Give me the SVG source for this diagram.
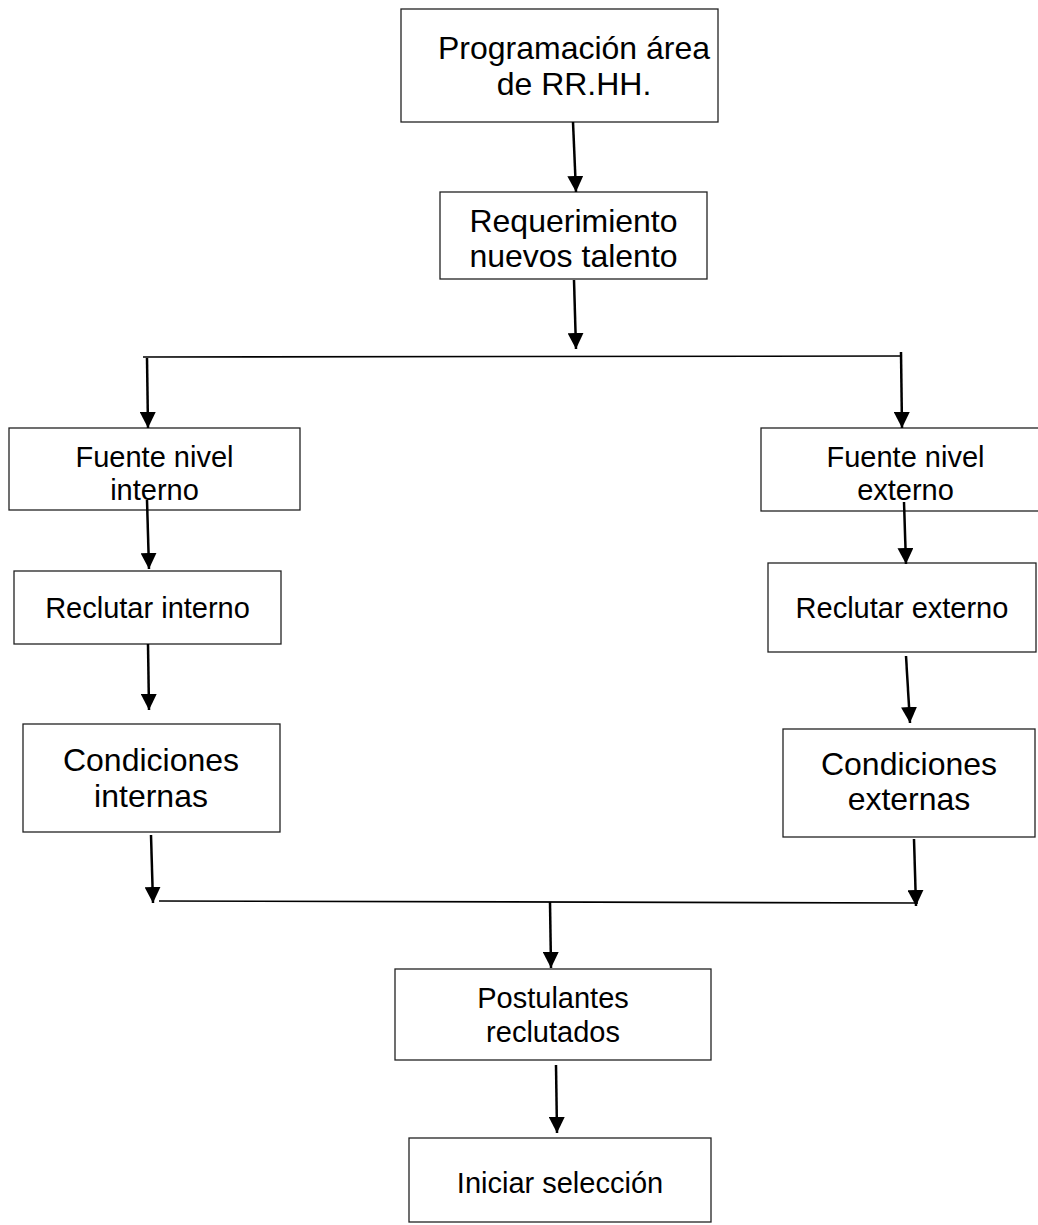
<svg xmlns="http://www.w3.org/2000/svg" width="1038" height="1225" viewBox="0 0 1038 1225">
<style>
.box{fill:#fff;stroke:#222;stroke-width:1.3}
.t{font-family:"Liberation Sans",Arial,sans-serif;fill:#000;text-anchor:middle}
.big{font-size:32px}
.mid{font-size:29px}
.arr{stroke:#000;stroke-width:2.5;fill:none;marker-end:url(#ah)}
.ln{stroke:#000;stroke-width:1.6;fill:none}
</style>
<defs>
<marker id="ah" viewBox="0 0 16 16" refX="16" refY="8" markerWidth="16" markerHeight="16" markerUnits="userSpaceOnUse" orient="auto">
<path d="M0,0 L16,8 L0,16 z" fill="#000"/>
</marker>
</defs>
<rect width="1038" height="1225" fill="#fff"/>
<g id="n1"><rect class="box" x="401" y="9" width="317" height="113"/>
<text class="t big" x="574" y="59">Programación área</text>
<text class="t big" x="574" y="95">de RR.HH.</text></g>
<g id="n2"><rect class="box" x="440" y="192" width="267" height="87"/>
<text class="t big" x="573.5" y="232">Requerimiento</text>
<text class="t big" x="573.5" y="267">nuevos talento</text></g>
<g id="n3"><rect class="box" x="9" y="428" width="291" height="82"/>
<text class="t mid" x="154.5" y="467">Fuente nivel</text>
<text class="t mid" x="154.5" y="500">interno</text></g>
<g id="n4"><rect class="box" x="761" y="428" width="290" height="83"/>
<text class="t mid" x="905.5" y="467">Fuente nivel</text>
<text class="t mid" x="905.5" y="500">externo</text></g>
<g id="n5"><rect class="box" x="14" y="571" width="267" height="73"/>
<text class="t mid" x="147.5" y="618">Reclutar interno</text></g>
<g id="n6"><rect class="box" x="768" y="563" width="268" height="89"/>
<text class="t mid" x="902" y="618">Reclutar externo</text></g>
<g id="n7"><rect class="box" x="23" y="724" width="257" height="108"/>
<text class="t big" x="151" y="771">Condiciones</text>
<text class="t big" x="151" y="807">internas</text></g>
<g id="n8"><rect class="box" x="783" y="729" width="252" height="108"/>
<text class="t big" x="909" y="775">Condiciones</text>
<text class="t big" x="909" y="810">externas</text></g>
<g id="n9"><rect class="box" x="395" y="969" width="316" height="91"/>
<text class="t mid" x="553" y="1008">Postulantes</text>
<text class="t mid" x="553" y="1042">reclutados</text></g>
<g id="n10"><rect class="box" x="409" y="1138" width="302" height="84"/>
<text class="t mid" x="560" y="1193">Iniciar selección</text></g>
<g id="connectors">
<line class="arr" x1="573" y1="122" x2="576" y2="192"/>
<line class="arr" x1="574" y1="280" x2="576" y2="349"/>
<line class="ln" x1="143" y1="357" x2="902" y2="356"/>
<line class="arr" x1="147" y1="358" x2="148" y2="428"/>
<line class="arr" x1="901" y1="352" x2="902" y2="428"/>
<line class="arr" x1="147" y1="500" x2="149" y2="569"/>
<line class="arr" x1="904" y1="502" x2="906" y2="564"/>
<line class="arr" x1="148" y1="644" x2="149" y2="710"/>
<line class="arr" x1="906" y1="656" x2="910" y2="723"/>
<line class="arr" x1="151" y1="835" x2="153" y2="903"/>
<line class="arr" x1="914" y1="839" x2="916" y2="906"/>
<line class="ln" x1="159" y1="901" x2="918" y2="903"/>
<line class="arr" x1="550" y1="902" x2="551" y2="968"/>
<line class="arr" x1="556" y1="1065" x2="557" y2="1133"/>
</g>
</svg>
